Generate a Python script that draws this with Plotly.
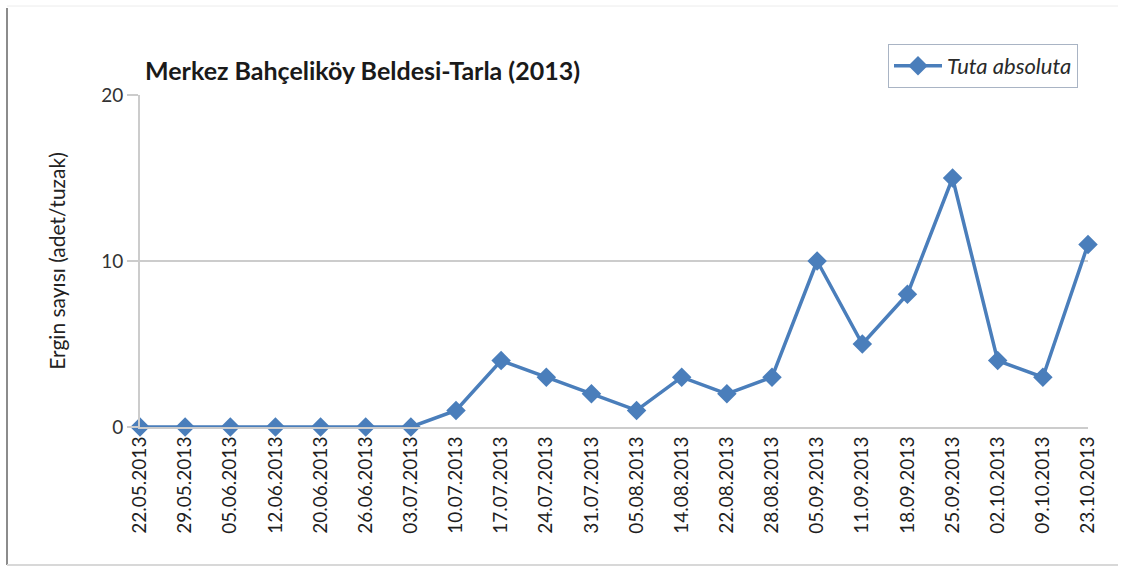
import plotly.graph_objects as go

# Weekly trap counts, 2013
dates = ["22.05.2013", "29.05.2013", "05.06.2013", "12.06.2013", "20.06.2013",
         "26.06.2013", "03.07.2013", "10.07.2013", "17.07.2013", "24.07.2013",
         "31.07.2013", "05.08.2013", "14.08.2013", "22.08.2013", "28.08.2013",
         "05.09.2013", "11.09.2013", "18.09.2013", "25.09.2013", "02.10.2013",
         "09.10.2013", "23.10.2013"]
counts = [0, 0, 0, 0, 0, 0, 0, 1, 4, 3, 2, 1, 3, 2, 3, 10, 5, 8, 15, 4, 3, 11]
y_ticks = [0, 10, 20]

W, H = 1121, 567
L, R, T, B = 140, 33, 95, 140
pw, ph = W - L - R, H - T - B

def px(x):
    return (x - L) / pw

def py(y):
    return (H - B - y) / ph

blue = "#4a7ebb"
font = "Lato"

fig = go.Figure()
fig.add_trace(go.Scatter(
    x=list(range(len(dates))), y=counts, mode="lines+markers",
    name="<i>Tuta absoluta</i>",
    line=dict(color=blue, width=3.5),
    marker=dict(symbol="diamond", size=15, color=blue),
    cliponaxis=False,
))

fig.update_layout(
    width=W, height=H,
    margin=dict(l=L, r=R, t=T, b=B),
    paper_bgcolor="white", plot_bgcolor="white",
    font=dict(family=font, color="#333333"),
    showlegend=True,
    legend=dict(x=px(888), y=py(44), xanchor="left", yanchor="top",
                bordercolor="#a9b4c4", borderwidth=1, bgcolor="white",
                font=dict(size=22, color="#2a2a2a"),
                itemwidth=48, tracegroupgap=0),
    xaxis=dict(
        range=[0, len(dates) - 1],
        tickmode="array", tickvals=list(range(len(dates))), ticktext=dates,
        tickangle=-90, tickfont=dict(size=19, color="#1e1e1e"),
        showgrid=False, zeroline=False,
        showline=True, linecolor="#cccccc", linewidth=2,
        ticks="", fixedrange=True,
    ),
    yaxis=dict(
        range=[0, 20], tickmode="array", tickvals=y_ticks,
        tickfont=dict(size=19, color="#333333"),
        showgrid=True, gridcolor="#cccccc", gridwidth=2,
        zeroline=False, showline=True, linecolor="#cccccc", linewidth=2,
        ticks="outside", ticklen=11, tickcolor="#cccccc", tickwidth=2,
        title=dict(text="Ergin sayısı (adet/tuzak)", font=dict(size=21, color="#222222"),
                   standoff=30),
    ),
    annotations=[dict(
        text="<b>Merkez Bahçeliköy Beldesi-Tarla (2013)</b>",
        xref="paper", yref="paper", x=px(143), y=py(70),
        xanchor="left", yanchor="middle", showarrow=False,
        font=dict(size=25, color="#1a1a1a", family=font),
    )],
    shapes=[
        dict(type="line", xref="paper", yref="paper", x0=px(7), x1=px(7),
             y0=py(8), y1=py(565), line=dict(color="#8c8c8c", width=2)),
        dict(type="line", xref="paper", yref="paper", x0=px(7), x1=px(1118),
             y0=py(6), y1=py(6), line=dict(color="#ececec", width=1)),
        dict(type="line", xref="paper", yref="paper", x0=px(7), x1=px(1118),
             y0=py(565), y1=py(565), line=dict(color="#d8d8d8", width=2)),
    ],
)

fig.write_html("out.html")
